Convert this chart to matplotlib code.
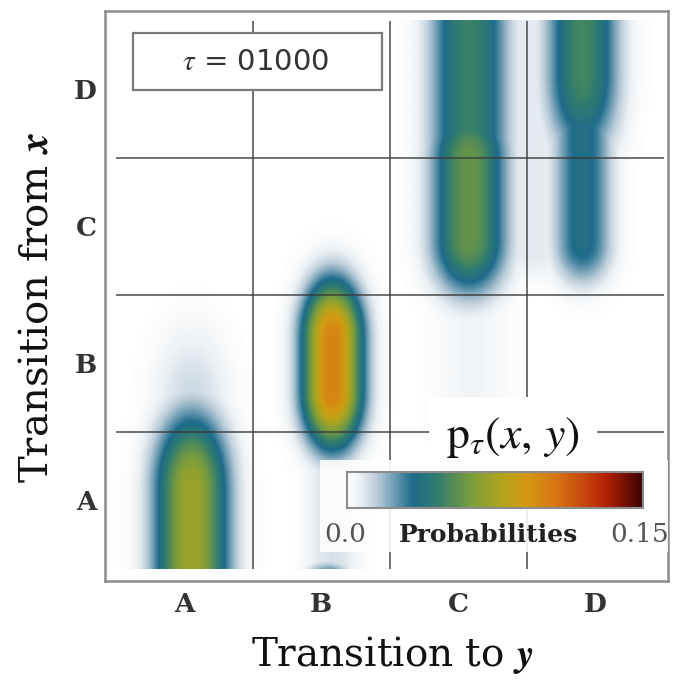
import numpy as np
import matplotlib
matplotlib.use("Agg")
import matplotlib.pyplot as plt
from matplotlib.colors import LinearSegmentedColormap
from matplotlib.patches import Rectangle

plt.rcParams["font.family"] = "serif"
plt.rcParams["font.serif"] = ["DejaVu Serif"]
plt.rcParams["mathtext.fontset"] = "stix"

# states on both axes
to_states = ["A", "B", "C", "D"]
from_states = ["A", "B", "C", "D"]
tau_label = "01000"
p_min, p_max = 0.0, 0.15

# main probability blobs
# (x position of the "to" state, bottom/top of the "from" range, peak value, spread)
blob_to = [0.55, 1.58, 2.58, 2.58, 3.41, 3.41]
blob_lo = [-0.3, 1.30, 2.40, 2.42, 2.38, 3.60]
blob_hi = [0.58, 1.68, 3.00, 4.50, 4.50, 4.50]
blob_peak = [0.072, 0.100, 0.058, 0.048, 0.036, 0.050]
blob_sx = [0.27, 0.22, 0.27, 0.28, 0.21, 0.26]
blob_sy = [0.55, 0.42, 0.40, 0.40, 0.30, 0.60]

# faint halos around the blobs
halo_to = [0.55, 1.58, 2.60, 3.00, 1.55]
halo_lo = [0.00, 0.00, 1.10, 2.30, -0.30]
halo_hi = [1.20, 1.00, 1.90, 4.50, -0.08]
halo_peak = [0.012, 0.010, 0.005, 0.008, 0.034]
halo_sx = [0.28, 0.20, 0.28, 0.45, 0.16]
halo_sy = [0.55, 0.30, 0.25, 0.20, 0.12]

# colour map of the "Probabilities" bar
cmap_pos = [0.0, 0.04, 0.10, 0.22, 0.30, 0.42, 0.52, 0.60, 0.70, 0.80, 0.88, 1.0]
cmap_col = ["#ffffff", "#eef2f5", "#b9cbd8", "#1e6b8c", "#2f7b70", "#7a9d3c",
            "#b0a41e", "#d39a12", "#d77812", "#c8480f", "#b01e02", "#3a0303"]
cmap = LinearSegmentedColormap.from_list("prob", list(zip(cmap_pos, cmap_col)))

# build the density field
gx = np.linspace(0, 4, 500)
gy = np.linspace(0, 4, 500)
X, Y = np.meshgrid(gx, gy)
field = np.zeros_like(X)
for c, lo, hi, pk, sx, sy in zip(blob_to + halo_to, blob_lo + halo_lo,
                                 blob_hi + halo_hi, blob_peak + halo_peak,
                                 blob_sx + halo_sx, blob_sy + halo_sy):
    dy = Y - np.clip(Y, lo, hi)
    d = np.sqrt(((X - c) / sx) ** 2 + (dy / sy) ** 2)
    field = np.maximum(field, pk * np.exp(-d ** 2.3))

fig = plt.figure(figsize=(6.73, 6.83), dpi=100)
W, H = 673, 683
ax = fig.add_axes([105 / W, 1 - 581 / H, 563 / W, 570 / H])
im = ax.imshow(field, origin="lower", extent=[0, 4, 0, 4], cmap=cmap,
               vmin=p_min, vmax=p_max, aspect="auto", interpolation="bilinear", zorder=1)
ax.set_xlim(-0.08, 4.03)
ax.set_ylim(-0.088, 4.07)

ax.hlines([1, 2, 3], 0, 4, color="#3a3a3a", lw=1.2, alpha=0.85, zorder=2)
ax.vlines([1, 2, 3], 0, 4, color="#3a3a3a", lw=1.2, alpha=0.85, zorder=2)

ax.set_xticks([0.5, 1.5, 2.5, 3.5], to_states)
ax.set_yticks([0.5, 1.5, 2.5, 3.5], from_states)
ax.tick_params(length=0, labelsize=19, labelcolor="#333333")
ax.tick_params(axis="x", pad=8)
ax.tick_params(axis="y", pad=6)
for lab in ax.get_xticklabels() + ax.get_yticklabels():
    lab.set_fontweight("bold")
for s in ax.spines.values():
    s.set_color("#8c8c8c")
    s.set_linewidth(1.8)

ax.set_xlabel(r"Transition to $\boldsymbol{y}$", fontsize=28, color="#111111")
ax.set_ylabel(r"Transition from $\boldsymbol{x}$", fontsize=29, color="#111111")
ax.xaxis.set_label_coords(0.51, -0.13)
ax.xaxis.label.set_va("center")
ax.yaxis.set_label_coords(-0.121, 0.48)
ax.yaxis.label.set_va("center")

# tau box
ax.add_patch(Rectangle((133 / W, 1 - 90 / H), 249 / W, 57 / H, transform=fig.transFigure,
                       facecolor="white", edgecolor="#7a7a7a", lw=1.6, zorder=5, clip_on=False))
ax.text(256 / W, 1 - 62 / H, r"$\tau$ = " + tau_label, transform=fig.transFigure,
        ha="center", va="center", fontsize=21, family="DejaVu Sans", color="#333333", zorder=6)

# colour bar panel
ax.add_patch(Rectangle((320 / W, 1 - 552 / H), 348 / W, 92 / H, transform=fig.transFigure,
                       facecolor="white", edgecolor="none", alpha=0.88, zorder=4, clip_on=False))
ax.text(513 / W, 1 - 437 / H, r"$\mathrm{p}_{\tau}(x,\,y)$", transform=fig.transFigure,
        ha="center", va="center", fontsize=33, color="#111111", zorder=6,
        bbox=dict(boxstyle="square,pad=0.38", facecolor="white", edgecolor="none"))
cax = fig.add_axes([347 / W, 1 - 508 / H, 296 / W, 36 / H], zorder=7)
cb = fig.colorbar(im, cax=cax, orientation="horizontal")
cb.set_ticks([])
cb.outline.set_edgecolor("#8c8c8c")
cb.outline.set_linewidth(1.5)
fig.text(345 / W, 1 - 535 / H, "0.0", ha="center", va="center", fontsize=19, color="#555555")
fig.text(488 / W, 1 - 535 / H, "Probabilities", ha="center", va="center", fontsize=18,
         fontweight="bold", color="#222222")
fig.text(640 / W, 1 - 535 / H, "0.15", ha="center", va="center", fontsize=19, color="#555555")

fig.savefig("out.png", dpi=100)
